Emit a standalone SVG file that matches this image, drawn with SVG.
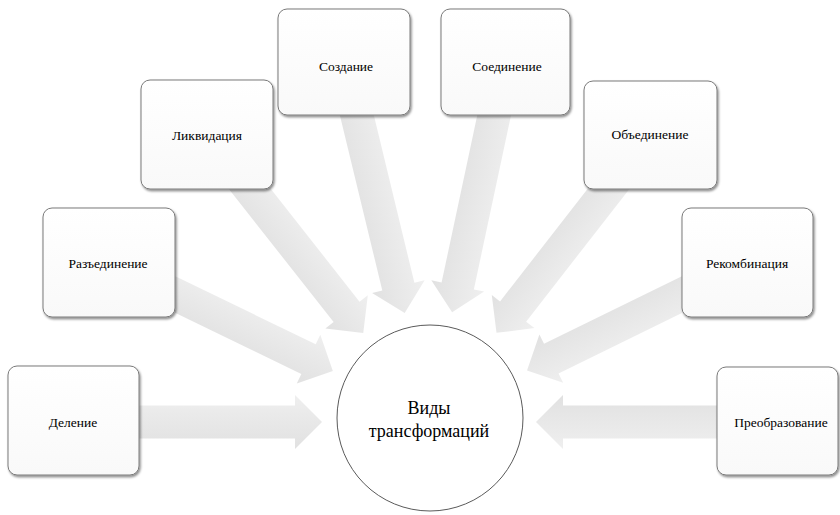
<svg xmlns="http://www.w3.org/2000/svg" width="840" height="515" viewBox="0 0 840 515">
  <defs>
    <linearGradient id="ag" x1="0" y1="0" x2="0" y2="1">
      <stop offset="0" stop-color="#efefef"/>
      <stop offset="1" stop-color="#e1e1e1"/>
    </linearGradient>
    <linearGradient id="bg" x1="0" y1="0" x2="0" y2="1">
      <stop offset="0" stop-color="#ffffff"/>
      <stop offset="1" stop-color="#f9f9f9"/>
    </linearGradient>
    <filter id="sh" x="-10%" y="-10%" width="125%" height="125%">
      <feDropShadow dx="1.2" dy="1.8" stdDeviation="1.2" flood-color="#000" flood-opacity="0.45"/>
    </filter>
  </defs>
  <style>
    .arrow { fill: url(#ag); stroke: none; }
    .box { fill: url(#bg); stroke: #7a7a7a; stroke-width: 1; filter: url(#sh); }
    .lbl { font-family: "Liberation Serif", "Times New Roman", serif; font-size: 13.5px; fill: #000; text-anchor: middle; }
    .hub { fill: #ffffff; stroke: #5a5a5a; stroke-width: 1; }
    .hubt { font-family: "Liberation Serif", "Times New Roman", serif; font-size: 18px; fill: #000; text-anchor: middle; }
  </style>
  <rect width="840" height="515" fill="#ffffff"/>
  <g id="connectors">
    <path class="arrow" transform="translate(73,422)" d="M0,-16.5 H222 V-27 L249,0 L222,27 V16.5 H0 Z"/>
    <path class="arrow" transform="translate(777,422) rotate(180)" d="M0,-16.5 H214 V-27 L241,0 L214,27 V16.5 H0 Z"/>
    <path class="arrow" transform="translate(344,62) rotate(76.4)" d="M0,-16.5 H231.2 V-27 L258.2,0 L231.2,27 V16.5 H0 Z"/>
    <path class="arrow" transform="translate(505.5,62) rotate(102.04)" d="M0,-16.5 H229 V-27 L256,0 L229,27 V16.5 H0 Z"/>
    <path class="arrow" transform="translate(207,134.5) rotate(51.8)" d="M0,-16.5 H225.7 V-27 L252.7,0 L225.7,27 V16.5 H0 Z"/>
    <path class="arrow" transform="translate(650.5,135) rotate(127.9)" d="M0,-16.5 H223.7 V-27 L250.7,0 L223.7,27 V16.5 H0 Z"/>
    <path class="arrow" transform="translate(109,262.5) rotate(25.84)" d="M0,-16.5 H221.7 V-27 L248.7,0 L221.7,27 V16.5 H0 Z"/>
    <path class="arrow" transform="translate(747.5,262.5) rotate(153.9)" d="M0,-16.5 H218.5 V-27 L245.5,0 L218.5,27 V16.5 H0 Z"/>
  </g>
  <g id="node-delenie">
    <rect class="box" x="8" y="366" width="131" height="109" rx="9"/>
    <text class="lbl" x="73" y="427">Деление</text>
  </g>
  <g id="node-razedinenie">
    <rect class="box" x="43" y="208" width="132" height="109" rx="9"/>
    <text class="lbl" x="108" y="268">Разъединение</text>
  </g>
  <g id="node-likvidatsiya">
    <rect class="box" x="141" y="80" width="132" height="109" rx="9"/>
    <text class="lbl" x="207" y="140">Ликвидация</text>
  </g>
  <g id="node-sozdanie">
    <rect class="box" x="278" y="9" width="132" height="106" rx="9"/>
    <text class="lbl" x="346" y="71">Создание</text>
  </g>
  <g id="node-soedinenie">
    <rect class="box" x="441" y="9" width="129" height="106" rx="9"/>
    <text class="lbl" x="507" y="71">Соединение</text>
  </g>
  <g id="node-obedinenie">
    <rect class="box" x="584" y="81" width="133" height="108" rx="9"/>
    <text class="lbl" x="650" y="139">Объединение</text>
  </g>
  <g id="node-rekombinatsiya">
    <rect class="box" x="682" y="208" width="131" height="109" rx="9"/>
    <text class="lbl" x="747" y="268">Рекомбинация</text>
  </g>
  <g id="node-preobrazovanie">
    <rect class="box" x="717" y="367" width="121" height="108" rx="9"/>
    <text class="lbl" x="781" y="427">Преобразование</text>
  </g>
  <g id="node-hub">
    <circle class="hub" cx="430" cy="418" r="93"/>
    <text class="hubt" x="429" y="414">Виды</text>
    <text class="hubt" x="429" y="437">трансформаций</text>
  </g>
</svg>
